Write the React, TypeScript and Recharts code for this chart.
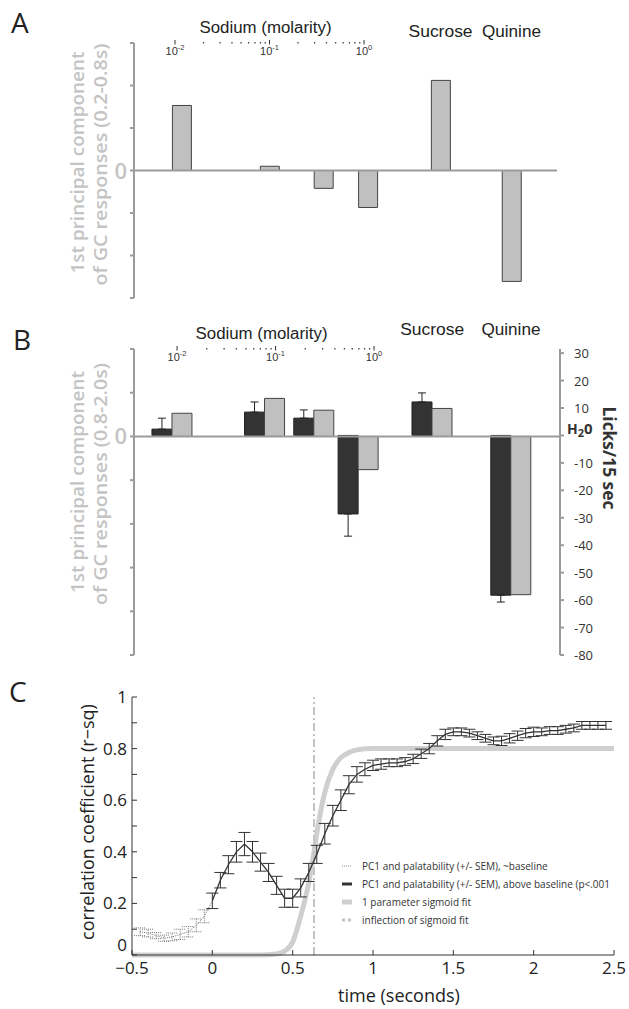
import React from "react";
import {
  BarChart,
  Bar,
  ComposedChart,
  Line,
  XAxis,
  YAxis,
  ReferenceLine,
  ErrorBar,
  Legend,
  Label,
} from "recharts";

const SANS = "'Liberation Sans', Arial, sans-serif";
const OPEN = "'Open Sans', sans-serif";
const PALE = "#c4c4c4";
const AXIS = "#9b9b9b";

// ---------- panels A and B ----------
const tastes = ["0.01 M NaCl", "0.1 M NaCl", "0.3 M NaCl", "1 M NaCl", "Sucrose", "Quinine"];
// where each taste sits along the printed molarity scale (decades); sucrose / quinine parked past 10^0
const placeA = [-1.93, -1.0, -0.43, 0.04, 0.81, 1.56];
const placeB = [-2.05, -1.11, -0.61, -0.16, 0.59, 1.39];
const pcEarly = [1.53, 0.1, -0.42, -0.87, 2.12, -2.61]; // PC1 0.2-0.8 s
const pcLate = [0.53, 0.87, 0.6, -0.76, 0.64, -3.62]; // PC1 0.8-2.0 s
const licks = [2.3, 8.5, 6.3, -28.6, 12.2, -58.2]; // licks / 15 s, relative to H2O
const licksSem = [4.0, 3.7, 3.0, 8.1, 3.3, 2.5];

const pcTicksA = [-3, -2, -1, 0, 1, 2, 3];
const pcTicksB = [-5, -4, -3, -2, -1, 0, 1, 2];
const licksTicks = [30, 20, 10, 0, -10, -20, -30, -40, -50, -60, -70, -80];
const decades = [-2, -1, 0];
const minors = [2, 3, 4, 5, 6, 7, 8, 9];

// ---------- panel C ----------
const tBase = [-0.45, -0.4, -0.35, -0.3, -0.25, -0.2, -0.15, -0.1, -0.05, 0];
const rBase = [0.09, 0.085, 0.075, 0.065, 0.07, 0.08, 0.09, 0.115, 0.15, 0.21];
const semBase = [0.015, 0.015, 0.012, 0.012, 0.015, 0.02, 0.02, 0.025, 0.025, null];

const tAbove = [
  0, 0.05, 0.1, 0.15, 0.2, 0.25, 0.3, 0.35, 0.4, 0.45, 0.5, 0.55, 0.6, 0.65, 0.7, 0.75, 0.8,
  0.85, 0.9, 0.95, 1, 1.05, 1.1, 1.15, 1.2, 1.25, 1.3, 1.35, 1.4, 1.45, 1.5, 1.55, 1.6, 1.65,
  1.7, 1.75, 1.8, 1.85, 1.9, 1.95, 2, 2.05, 2.1, 2.15, 2.2, 2.25, 2.3, 2.35, 2.4, 2.45,
];
const rAbove = [
  0.21, 0.29, 0.35, 0.4, 0.43, 0.4, 0.36, 0.32, 0.27, 0.22, 0.22, 0.26, 0.32, 0.39, 0.47, 0.54,
  0.6, 0.66, 0.7, 0.72, 0.735, 0.74, 0.745, 0.745, 0.75, 0.76, 0.78, 0.8, 0.83, 0.855, 0.865,
  0.865, 0.86, 0.85, 0.84, 0.83, 0.83, 0.84, 0.85, 0.86, 0.865, 0.865, 0.87, 0.87, 0.875, 0.88,
  0.89, 0.89, 0.89, 0.89,
];
const semAbove = [
  0.03, 0.03, 0.035, 0.04, 0.045, 0.04, 0.035, 0.035, 0.035, 0.035, 0.035, 0.035, 0.035, 0.035,
  0.04, 0.04, 0.04, 0.035, 0.03, 0.025, 0.02, 0.02, 0.015, 0.015, 0.015, 0.018, 0.018, 0.02,
  0.02, 0.02, 0.015, 0.015, 0.015, 0.015, 0.015, 0.015, 0.018, 0.018, 0.018, 0.018, 0.018,
  0.015, 0.015, 0.015, 0.015, 0.015, 0.015, 0.015, 0.015, 0.015,
];
// sigmoid fit
const tFit = [-0.5, 0.3, 0.4, 0.45, 0.5, 0.55, 0.6, 0.633, 0.65, 0.7, 0.75, 0.8, 0.85, 0.9, 1, 2.5];
const rFit = [0, 0, 0.004, 0.015, 0.05, 0.15, 0.28, 0.4, 0.47, 0.63, 0.72, 0.765, 0.785, 0.795, 0.8, 0.8];
const inflection = 0.633;
const xTicksC = [-0.5, 0, 0.5, 1, 1.5, 2, 2.5];
const yTicksC = [0, 0.1, 0.2, 0.3, 0.4, 0.5, 0.6, 0.7, 0.8, 0.9, 1];

const legendItems = [
  { label: "PC1 and palatability (+/- SEM), ~baseline", stroke: "#888", w: 1, dash: "1 1" },
  { label: "PC1 and palatability (+/- SEM), above baseline (p<.001", stroke: "#333", w: 3, dash: undefined },
  { label: "1 parameter sigmoid fit", stroke: "#cfcfcf", w: 5, dash: undefined },
  { label: "inflection of sigmoid fit", stroke: "#c4c4c4", w: 3, dash: "3 3" },
];

const rowsA = tastes.map((name, i) => ({ name, x: placeA[i], pc: pcEarly[i] }));
const rowsB = tastes.map((name, i) => ({
  name,
  x: placeB[i],
  pc: pcLate[i],
  licks: licks[i],
  sem: licks[i] >= 0 ? [0, licksSem[i]] : [licksSem[i], 0],
}));
const logTicks = decades.flatMap((d) => (d === 0 ? [0] : [d, ...minors.map((m) => d + Math.log10(m))]));
const baseRows = tBase.map((t, i) => ({ t, r: rBase[i], sem: semBase[i] }));
const aboveRows = tAbove.map((t, i) => ({ t, r: rAbove[i], sem: semAbove[i] }));
const fitRows = tFit.map((t, i) => ({ t, r: rFit[i] }));

// top axis: log molarity dots + 10^n labels, plus the sucrose / quinine headings
const TopTick = (props: any) => {
  const { x, y, payload, place, titleDx, catDy } = props;
  const v: number = payload.value;
  const cat = place.indexOf(v);
  if (cat >= 4) {
    return (
      <text x={x} y={y + catDy} textAnchor="middle" fontFamily={SANS} fontSize={16} fill="#222"
        textLength={cat === 4 ? 64 : 59} lengthAdjust="spacingAndGlyphs">
        {tastes[cat]}
      </text>
    );
  }
  if (!decades.includes(v)) {
    return <rect x={x - 0.6} y={y - 1} width={1.3} height={1.5} fill="#444" />;
  }
  return (
    <g>
      <line x1={x} x2={x} y1={y - 3} y2={y + 1.5} stroke="#333" strokeWidth={1} />
      <text x={x} y={y + 12} textAnchor="middle" fontFamily={SANS} fontSize={11} fill="#333">
        10<tspan dy={-5} fontSize={7.5}>{v === 0 ? "0" : `-${Math.abs(v)}`}</tspan>
      </text>
      {v === -1 && (
        <text x={x + titleDx} y={y - 10} textAnchor="middle" fontFamily={SANS} fontSize={16} fill="#222"
          textLength={132} lengthAdjust="spacingAndGlyphs">
          Sodium (molarity)
        </text>
      )}
    </g>
  );
};

const PcTick = ({ x, y, payload }: any) =>
  payload.value === 0 ? (
    <text x={x} y={y + 8} textAnchor="end" fontFamily={OPEN} fontWeight={600} fontSize={22} fill={PALE}>
      0
    </text>
  ) : (
    <g />
  );

const LickTick = ({ x, y, payload }: any) =>
  payload.value === 0 ? (
    <text x={x - 7} y={y - 1} fontFamily={OPEN} fontWeight={700} fontSize={14} fill="#333">
      H<tspan fontSize={11} dy={3}>2</tspan>
      <tspan fontSize={15} dy={-3}>0</tspan>
    </text>
  ) : (
    <text x={x} y={y + 5} fontFamily={OPEN} fontSize={13} fill="#333">
      {payload.value}
    </text>
  );

const RTick = ({ x, y, payload }: any) => {
  const s = fmtR(payload.value);
  if (!s) return <g />;
  return (
    <text x={x} y={y + (payload.value === 0 ? -4 : 6)} textAnchor="end" fontFamily={OPEN} fontSize={17} fill="#222">
      {s}
    </text>
  );
};

const PcAxisLabel = ({ viewBox, win, shift }: any) => {
  const cy = viewBox.y + viewBox.height / 2 + shift;
  return (
    <g fill={PALE} fontFamily={OPEN} fontWeight={600} fontSize={18}>
      <text transform={`translate(${viewBox.x - 10}, ${cy}) rotate(-90)`} textAnchor="middle"
        textLength={222} lengthAdjust="spacingAndGlyphs">
        1st principal component
      </text>
      <text transform={`translate(${viewBox.x + 13}, ${cy + 2}) rotate(-90)`} textAnchor="middle"
        textLength={242} lengthAdjust="spacingAndGlyphs">
        of GC responses ({win})
      </text>
    </g>
  );
};

const LicksLabel = ({ viewBox }: any) => (
  <text transform={`translate(${viewBox.x + 43}, ${viewBox.y + 109}) rotate(90)`} textAnchor="middle"
    fontFamily={OPEN} fontWeight={700} fontSize={17} fill="#333" textLength={103} lengthAdjust="spacingAndGlyphs">
    Licks/15 sec
  </text>
);

const TimeLabel = ({ viewBox }: any) => (
  <text x={viewBox.x + viewBox.width / 2 + 26} y={viewBox.y + 47} textAnchor="middle" fontFamily={OPEN}
    fontSize={18} fill="#222">
    time (seconds)
  </text>
);

const CorrLabel = ({ viewBox }: any) => (
  <text transform={`translate(94, ${viewBox.y + viewBox.height / 2 - 4}) rotate(-90)`} textAnchor="middle"
    fontFamily={OPEN} fontSize={18} fill="#222">
    correlation coefficient (r−sq)
  </text>
);

const FitLegend = () => (
  <div style={{ fontFamily: OPEN, fontSize: 10, color: "#333", whiteSpace: "nowrap" }}>
    {legendItems.map((it) => (
      <div key={it.label} style={{ display: "flex", alignItems: "center", height: 18 }}>
        <svg width={20} height={8}>
          <line x1={4} x2={14} y1={4} y2={4} stroke={it.stroke} strokeWidth={it.w} strokeDasharray={it.dash} />
        </svg>
        <span style={{ marginLeft: 4 }}>{it.label}</span>
      </div>
    ))}
  </div>
);

const fmtC = (v: number) => (v < 0 ? `−${Math.abs(v)}` : String(v));
function fmtR(v: number) {
  const k = Math.round(v * 10);
  if (k % 2) return "";
  return k === 0 ? "0" : k === 10 ? "1" : v.toFixed(1);
}

const PanelA = () => (
  <BarChart width={629} height={310} data={rowsA} margin={{ top: 23, right: 72, bottom: 12, left: 94 }}>
    <XAxis xAxisId="m" orientation="top" type="number" dataKey="x" domain={[-2.434, 2.042]}
      ticks={[...logTicks, placeA[4], placeA[5]]} interval={0} allowDataOverflow
      tick={<TopTick place={placeA} titleDx={-4} catDy={-6} />}
      tickLine={false} axisLine={false} tickSize={0} tickMargin={0} height={20} />
    <YAxis domain={[-3, 3]} ticks={pcTicksA} interval={0} width={40} tick={<PcTick />} tickSize={4} tickMargin={3}
      axisLine={{ stroke: AXIS, strokeWidth: 2 }} tickLine={{ stroke: AXIS, strokeWidth: 2 }}>
      <Label content={<PcAxisLabel win="0.2-0.8s" shift={-8} />} />
    </YAxis>
    <ReferenceLine xAxisId="m" y={0} stroke={AXIS} strokeWidth={2} />
    <Bar xAxisId="m" dataKey="pc" barSize={19} fill="#c0c0c0" stroke="#444" strokeWidth={1}
      isAnimationActive={false} />
  </BarChart>
);

const PanelB = () => (
  <ComposedChart width={629} height={370} data={rowsB} barGap={0}
    margin={{ top: 29, right: 9, bottom: 15, left: 94 }}>
    <XAxis xAxisId="m" orientation="top" type="number" dataKey="x" domain={[-2.437, 1.888]}
      ticks={[...logTicks, placeB[4], placeB[5]]} interval={0} allowDataOverflow
      tick={<TopTick place={placeB} titleDx={-14} catDy={-14} />}
      tickLine={false} axisLine={false} tickSize={0} tickMargin={0} height={20} />
    <YAxis yAxisId="pc" domain={[-5, 2]} ticks={pcTicksB} interval={0} width={40} tick={<PcTick />} tickSize={4}
      tickMargin={3} axisLine={{ stroke: AXIS, strokeWidth: 2 }} tickLine={{ stroke: AXIS, strokeWidth: 2 }}>
      <Label content={<PcAxisLabel win="0.8-2.0s" shift={-20} />} />
    </YAxis>
    <YAxis yAxisId="licks" orientation="right" domain={[-80, 31.5]} ticks={licksTicks} interval={0} width={60}
      tick={<LickTick />} tickSize={4} tickMargin={10} allowDataOverflow
      axisLine={{ stroke: AXIS, strokeWidth: 2 }} tickLine={{ stroke: AXIS, strokeWidth: 2 }}>
      <Label content={<LicksLabel />} />
    </YAxis>
    <ReferenceLine xAxisId="m" yAxisId="pc" y={0} stroke={AXIS} strokeWidth={2} />
    <Bar xAxisId="m" yAxisId="licks" dataKey="licks" barSize={20} fill="#333" stroke="#222" strokeWidth={1}
      isAnimationActive={false}>
      <ErrorBar dataKey="sem" width={4} stroke="#222" strokeWidth={1} direction="y" />
    </Bar>
    <Bar xAxisId="m" yAxisId="pc" dataKey="pc" barSize={20} fill="#c0c0c0" stroke="#444" strokeWidth={1}
      isAnimationActive={false} />
  </ComposedChart>
);

const PanelC = () => (
  <ComposedChart width={629} height={339} margin={{ top: 27, right: 15, bottom: 14, left: 82 }}>
    <XAxis type="number" dataKey="t" domain={[-0.5, 2.5]} ticks={xTicksC} interval={0} height={40}
      tickFormatter={fmtC} tickSize={-5} tickMargin={12} stroke="#333"
      tick={{ fill: "#222", fontFamily: OPEN, fontSize: 17 }} allowDataOverflow>
      <Label content={<TimeLabel />} />
    </XAxis>
    <YAxis type="number" domain={[0, 1]} ticks={yTicksC} interval={0} width={50} tick={<RTick />}
      tickSize={-5} tickMargin={10} stroke="#333">
      <Label content={<CorrLabel />} />
    </YAxis>
    <Line data={fitRows} dataKey="r" type="monotone" stroke="#cfcfcf" strokeWidth={5} dot={false}
      isAnimationActive={false} />
    <ReferenceLine x={inflection} stroke="#c4c4c4" strokeWidth={2} strokeDasharray="8 3 2 3" />
    <Line data={baseRows} dataKey="r" type="linear" stroke="#777" strokeWidth={1} strokeDasharray="1 1"
      dot={false} isAnimationActive={false}>
      <ErrorBar dataKey="sem" width={6} stroke="#777" strokeWidth={1} strokeDasharray="1 1" direction="y" />
    </Line>
    <Line data={aboveRows} dataKey="r" type="linear" stroke="#333" strokeWidth={1.3} dot={false}
      isAnimationActive={false}>
      <ErrorBar dataKey="sem" width={6} stroke="#333" strokeWidth={1} direction="y" />
    </Line>
    <Legend content={<FitLegend />} layout="vertical" align="center" verticalAlign="middle"
      wrapperStyle={{ left: 338, top: 187, width: 291 }} />
  </ComposedChart>
);

export default function App() {
  return (
    <div style={{ position: "absolute", left: 0, top: 0, width: 629, height: 1009, background: "#fff", overflow: "hidden" }}>
      <div style={{ position: "absolute", left: 0, top: 0 }}>
        <PanelA />
      </div>
      <div style={{ position: "absolute", left: 0, top: 300 }}>
        <PanelB />
      </div>
      <div style={{ position: "absolute", left: 0, top: 670 }}>
        <PanelC />
      </div>
      <svg width={629} height={1009} style={{ position: "absolute", left: 0, top: 0, pointerEvents: "none" }}>
        <g fontFamily={OPEN} fontSize={28} fill="#222">
          <text x={11} y={33}>A</text>
          <text x={13} y={350}>B</text>
          <text x={9} y={702}>C</text>
        </g>
      </svg>
    </div>
  );
}
